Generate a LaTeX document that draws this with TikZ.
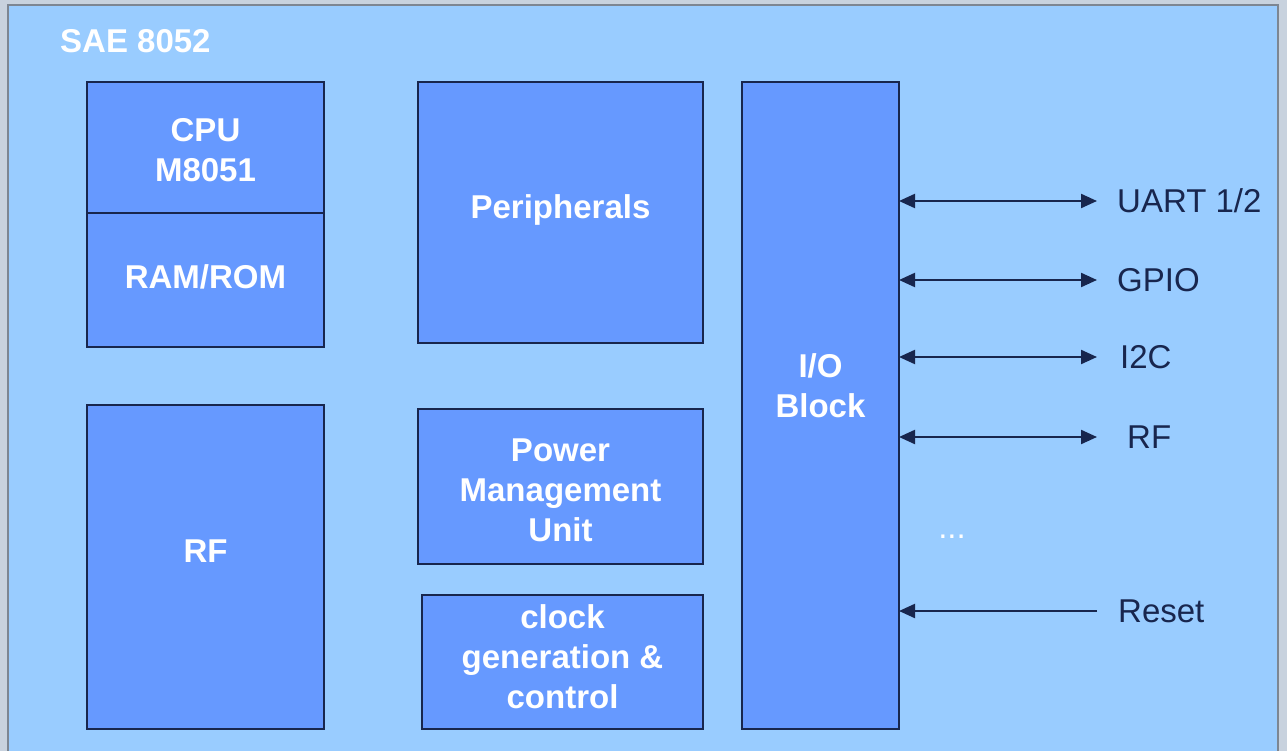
\documentclass[tikz,border=0pt]{standalone}
\usepackage{fontspec}
\setmainfont{Liberation Sans}
\usetikzlibrary{arrows.meta}
\definecolor{bg}{RGB}{153, 204, 255}
\definecolor{bx}{RGB}{102, 153, 255}
\definecolor{ln}{RGB}{24, 38, 78}
\definecolor{gr}{RGB}{200, 210, 222}
\definecolor{fr}{RGB}{125, 134, 146}

\begin{document}
\begin{tikzpicture}[x=1pt, y=-1pt,
  blk/.style={rectangle, anchor=north west, fill=bx, draw=ln, line width=2pt, inner sep=0pt, outer sep=0pt},
  txt/.style={text=white, font=\fontsize{33}{40}\selectfont\bfseries, align=center, inner sep=0pt},
  sig/.style={text=ln, font=\fontsize{33}{40}\selectfont, anchor=west, inner sep=0pt},
  link/.style={line width=2.2pt, color=ln, {Triangle[length=16pt,width=14pt]}-{Triangle[length=16pt,width=14pt]}},
  linkin/.style={line width=2.2pt, color=ln, -{Triangle[length=16pt,width=14pt]}}]
\clip (0,0) rectangle (1287,751);
\useasboundingbox (0,0) rectangle (1287,751);
% chip outline
\fill [gr] (0,0) rectangle (1287,751);
\draw [fill=bg, draw=fr, line width=2pt] (8,5) rectangle (1278,770);
\node (title) [txt, anchor=base west] at (60,53) {SAE 8052};
% blocks
\node (cpu) [blk, minimum width=237pt, minimum height=131pt] at (87,82) {};
\node (mem) [blk, minimum width=237pt, minimum height=134pt] at (87,213) {};
\node (rf) [blk, minimum width=237pt, minimum height=324pt] at (87,405) {};
\node (peri) [blk, minimum width=285pt, minimum height=261pt] at (418,82) {};
\node (pmu) [blk, minimum width=285pt, minimum height=155pt] at (418,409) {};
\node (clk) [blk, minimum width=281pt, minimum height=134pt] at (422,595) {};
\node (io) [blk, minimum width=157pt, minimum height=647pt] at (742,82) {};
% block texts
\node (cpuT) [txt] at ([yshift=-3pt]cpu.center) {CPU\\M8051};
\node (memT) [txt] at ([yshift=3pt]mem.center) {RAM/ROM};
\node (rfT) [txt] at ([yshift=16pt]rf.center) {RF};
\node (periT) [txt] at ([yshift=3pt]peri.center) {Peripherals};
\node (pmuT) [txt] at ([yshift=-4pt]pmu.center) {Power\\Management\\Unit};
\node (clkT) [txt] at ([yshift=5pt]clk.center) {clock\\generation \&\\control};
\node (ioT) [txt] at ([yshift=20pt]io.center) {I/O\\Block};
% pins
\node (uart) [sig] at (1117,201) {UART 1/2};
\node (gpio) [sig] at (1117,280) {GPIO};
\node (iic) [sig] at (1120,357) {I2C};
\node (rfp) [sig] at (1127,437) {RF};
\node (more) [txt, font=\fontsize{33}{40}\selectfont, anchor=base] at (952,538) {...};
\node (rst) [sig] at (1118,611) {Reset};
\draw [link] (io.east |- uart.west) to (1097,0 |- uart.west);
\draw [link] (io.east |- gpio.west) to (1097,0 |- gpio.west);
\draw [link] (io.east |- iic.west) to (1097,0 |- iic.west);
\draw [link] (io.east |- rfp.west) to (1097,0 |- rfp.west);
\draw [linkin] (1097,0 |- rst.west) to (io.east |- rst.west);
\end{tikzpicture}
\end{document}
